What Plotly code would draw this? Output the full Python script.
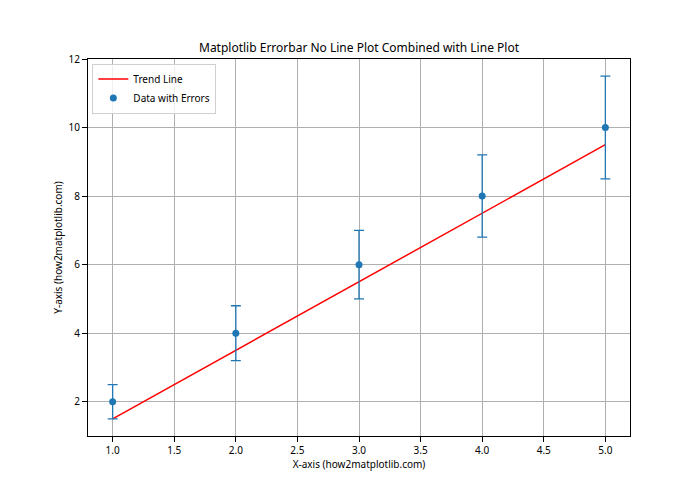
import plotly.graph_objects as go

x_vals = [1, 2, 3, 4, 5]
y_vals = [2, 4, 6, 8, 10]
y_err = [0.5, 0.8, 1.0, 1.2, 1.5]
trend_vals = [1.5, 3.5, 5.5, 7.5, 9.5]

x_ticks = [1.0, 1.5, 2.0, 2.5, 3.0, 3.5, 4.0, 4.5, 5.0]
y_ticks = [2, 4, 6, 8, 10, 12]

FONT = "Noto Sans"

fig = go.Figure()
fig.add_trace(go.Scatter(
    x=x_vals, y=trend_vals, mode="lines", name="Trend Line",
    line=dict(color="red", width=1.5),
))
fig.add_trace(go.Scatter(
    x=x_vals, y=y_vals, mode="markers", name="Data with Errors",
    marker=dict(color="#1f77b4", size=7),
    error_y=dict(type="data", array=y_err, visible=True, color="#1f77b4",
                 thickness=1.3, width=5),
))

axis_common = dict(
    showline=True, linecolor="black", linewidth=1, mirror=True,
    ticks="outside", ticklen=5, tickcolor="black", tickwidth=1,
    showgrid=True, gridcolor="#b0b0b0", gridwidth=0.8,
    zeroline=False, tickfont=dict(size=10, color="black", family=FONT),
    automargin=False,
)

# page body has an 8px margin, so the figure is offset by 8px
fig.update_layout(
    width=700, height=490,
    margin=dict(l=80, r=78, t=51, b=62),
    paper_bgcolor="white", plot_bgcolor="white",
    font=dict(family=FONT, color="black"),
    title=dict(text="Matplotlib Errorbar No Line Plot Combined with Line Plot",
               x=351 / 700, xanchor="center", y=1 - 40 / 490, yanchor="middle",
               font=dict(size=12, color="black", family=FONT)),
    xaxis=dict(range=[0.8, 5.2], tickvals=x_ticks,
               ticktext=[f"{v:.1f}" for v in x_ticks],
               title=dict(text="X-axis (how2matplotlib.com)", font=dict(size=10), standoff=4),
               **axis_common),
    yaxis=dict(range=[1.0, 12.0], tickvals=y_ticks,
               ticktext=[str(v) for v in y_ticks],
               title=dict(text="Y-axis (how2matplotlib.com)", font=dict(size=10), standoff=4),
               **axis_common),
    legend=dict(x=0.008, y=0.988, xanchor="left", yanchor="top",
                bgcolor="rgba(255,255,255,0.8)", bordercolor="#d0d0d0", borderwidth=1,
                font=dict(size=10, color="black", family=FONT),
                tracegroupgap=0, itemwidth=30),
    showlegend=True,
)

fig.write_html("out.html")
